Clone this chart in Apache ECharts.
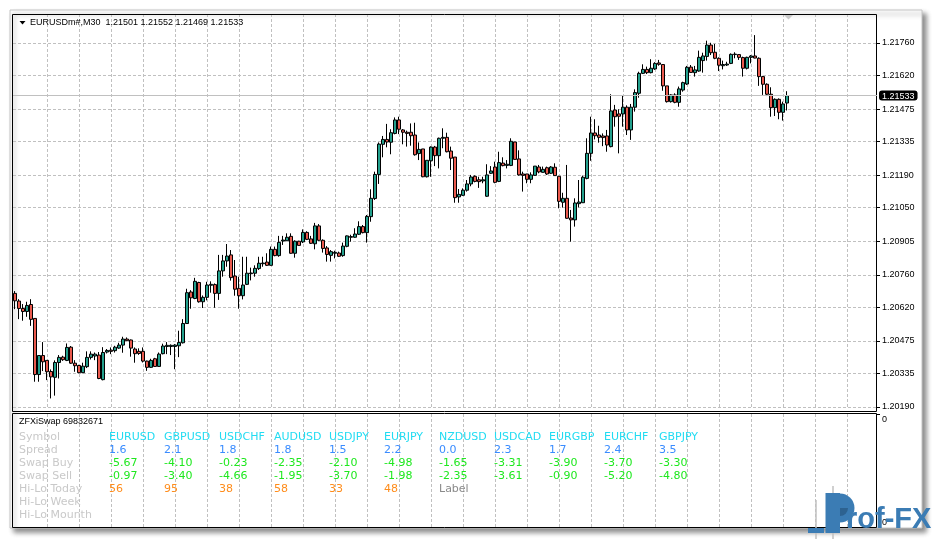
<!DOCTYPE html>
<html>
<head>
<meta charset="utf-8">
<script src="https://cdn.jsdelivr.net/npm/echarts@6/dist/echarts.min.js"></script>
<style>
html,body{margin:0;padding:0;background:#ffffff;}
#chart{width:935px;height:539px;}
</style>
</head>
<body>
<div id="chart"></div>
<script>
// ---------------- data ----------------
const symbolTitle = 'EURUSDm#,M30';
const openValues = [
1.20680,1.20647,1.20615,1.20602,1.20632,1.20572,1.20330,1.20412,1.20391,1.20343,
1.20318,1.20382,1.20405,1.20391,1.20448,1.20379,1.20369,1.20338,1.20364,1.20404,
1.20410,1.20414,1.20308,1.20427,1.20435,1.20433,1.20444,1.20457,1.20483,1.20479,
1.20440,1.20430,1.20430,1.20388,1.20361,1.20398,1.20365,1.20420,1.20451,1.20451,
1.20451,1.20454,1.20467,1.20550,1.20686,1.20658,1.20727,1.20644,1.20663,1.20715,
1.20718,1.20680,1.20777,1.20820,1.20846,1.20755,1.20702,1.20670,1.20719,1.20765,
1.20767,1.20787,1.20808,1.20815,1.20801,1.20870,1.20843,1.20906,1.20907,1.20926,
1.20853,1.20905,1.20902,1.20943,1.20915,1.20894,1.20971,1.20909,1.20876,1.20844,
1.20853,1.20854,1.20843,1.20883,1.20922,1.20922,1.20935,1.20968,1.20942,1.21011,
1.21089,1.21193,1.21323,1.21344,1.21332,1.21370,1.21428,1.21385,1.21375,1.21375,
1.21363,1.21283,1.21303,1.21183,1.21252,1.21311,1.21274,1.21349,1.21353,1.21294,
1.21268,1.21096,1.21103,1.21125,1.21152,1.21185,1.21170,1.21165,1.21099,1.21198,
1.21225,1.21163,1.21242,1.21232,1.21232,1.21333,1.21260,1.21195,1.21195,1.21172,
1.21189,1.21225,1.21202,1.21222,1.21198,1.21224,1.21185,1.21073,1.21090,1.21005,
1.20997,1.21067,1.21071,1.21176,1.21284,1.21372,1.21363,1.21359,1.21359,1.21313,
1.21471,1.21454,1.21454,1.21483,1.21385,1.21483,1.21543,1.21629,1.21646,1.21632,
1.21648,1.21674,1.21667,1.21575,1.21507,1.21536,1.21504,1.21557,1.21583,1.21656,
1.21632,1.21639,1.21684,1.21702,1.21751,1.21720,1.21694,1.21662,1.21665,1.21672,
1.21710,1.21710,1.21697,1.21651,1.21698,1.21704,1.21694,1.21615,1.21582,1.21539,
1.21481,1.21517,1.21461,1.21501
];
const closeValues = [
1.20648,1.20615,1.20602,1.20628,1.20568,1.20330,1.20412,1.20385,1.20342,1.20320,
1.20382,1.20404,1.20394,1.20447,1.20379,1.20368,1.20338,1.20366,1.20404,1.20418,
1.20418,1.20313,1.20425,1.20434,1.20430,1.20448,1.20457,1.20483,1.20476,1.20444,
1.20420,1.20421,1.20388,1.20361,1.20391,1.20365,1.20418,1.20453,1.20456,1.20456,
1.20457,1.20468,1.20550,1.20683,1.20661,1.20732,1.20644,1.20663,1.20716,1.20719,
1.20680,1.20777,1.20820,1.20841,1.20748,1.20698,1.20670,1.20716,1.20767,1.20768,
1.20788,1.20810,1.20811,1.20801,1.20870,1.20843,1.20900,1.20910,1.20922,1.20853,
1.20905,1.20887,1.20943,1.20913,1.20896,1.20971,1.20909,1.20874,1.20848,1.20860,
1.20857,1.20840,1.20884,1.20928,1.20925,1.20936,1.20968,1.20942,1.21012,1.21090,
1.21193,1.21324,1.21344,1.21333,1.21373,1.21428,1.21388,1.21375,1.21370,1.21360,
1.21278,1.21301,1.21183,1.21254,1.21311,1.21274,1.21349,1.21353,1.21291,1.21263,
1.21093,1.21107,1.21125,1.21152,1.21182,1.21163,1.21162,1.21170,1.21191,1.21208,
1.21159,1.21244,1.21231,1.21237,1.21336,1.21258,1.21191,1.21189,1.21172,1.21191,
1.21229,1.21204,1.21215,1.21195,1.21225,1.21188,1.21077,1.21090,1.21004,1.20997,
1.21070,1.21074,1.21181,1.21284,1.21372,1.21360,1.21353,1.21352,1.21320,1.21467,
1.21442,1.21444,1.21483,1.21385,1.21483,1.21546,1.21629,1.21646,1.21632,1.21651,
1.21672,1.21668,1.21575,1.21507,1.21536,1.21504,1.21562,1.21589,1.21655,1.21633,
1.21644,1.21698,1.21704,1.21751,1.21718,1.21694,1.21664,1.21667,1.21669,1.21711,
1.21712,1.21698,1.21651,1.21698,1.21704,1.21695,1.21615,1.21582,1.21539,1.21481,
1.21517,1.21461,1.21497,1.21533
];
const lowValues = [
1.20612,1.20569,1.20562,1.20579,1.20540,1.20299,1.20299,1.20345,1.20306,1.20227,
1.20239,1.20313,1.20389,1.20388,1.20376,1.20342,1.20336,1.20336,1.20358,1.20395,
1.20392,1.20310,1.20305,1.20421,1.20418,1.20425,1.20441,1.20424,1.20474,1.20407,
1.20381,1.20415,1.20382,1.20346,1.20359,1.20364,1.20364,1.20417,1.20418,1.20414,
1.20353,1.20405,1.20464,1.20548,1.20614,1.20655,1.20640,1.20617,1.20650,1.20683,
1.20618,1.20652,1.20752,1.20795,1.20735,1.20670,1.20614,1.20654,1.20716,1.20736,
1.20752,1.20781,1.20795,1.20798,1.20800,1.20840,1.20838,1.20889,1.20906,1.20851,
1.20834,1.20886,1.20897,1.20910,1.20893,1.20870,1.20906,1.20856,1.20817,1.20817,
1.20831,1.20837,1.20838,1.20879,1.20903,1.20920,1.20932,1.20939,1.20899,1.20989,
1.21083,1.21152,1.21267,1.21310,1.21280,1.21366,1.21367,1.21323,1.21313,1.21317,
1.21274,1.21255,1.21181,1.21180,1.21183,1.21229,1.21219,1.21306,1.21288,1.21212,
1.21071,1.21071,1.21100,1.21119,1.21142,1.21159,1.21135,1.21155,1.21096,1.21195,
1.21155,1.21160,1.21228,1.21219,1.21229,1.21257,1.21188,1.21119,1.21155,1.21155,
1.21188,1.21198,1.21201,1.21191,1.21195,1.21188,1.21047,1.21050,1.21002,1.20903,
1.20968,1.21051,1.21070,1.21172,1.21252,1.21344,1.21330,1.21315,1.21291,1.21310,
1.21399,1.21284,1.21399,1.21363,1.21342,1.21464,1.21524,1.21626,1.21626,1.21629,
1.21644,1.21662,1.21554,1.21503,1.21503,1.21500,1.21485,1.21550,1.21579,1.21632,
1.21615,1.21636,1.21632,1.21684,1.21708,1.21690,1.21639,1.21646,1.21661,1.21669,
1.21694,1.21687,1.21615,1.21646,1.21672,1.21694,1.21575,1.21536,1.21531,1.21442,
1.21445,1.21431,1.21425,1.21469
];
const highValues = [
1.20690,1.20655,1.20634,1.20644,1.20655,1.20572,1.20412,1.20470,1.20391,1.20352,
1.20391,1.20414,1.20411,1.20464,1.20453,1.20392,1.20372,1.20381,1.20430,1.20430,
1.20425,1.20427,1.20448,1.20440,1.20447,1.20454,1.20467,1.20493,1.20490,1.20481,
1.20447,1.20443,1.20447,1.20390,1.20398,1.20402,1.20425,1.20463,1.20470,1.20460,
1.20461,1.20519,1.20569,1.20700,1.20694,1.20747,1.20730,1.20671,1.20730,1.20732,
1.20723,1.20846,1.20846,1.20893,1.20867,1.20824,1.20752,1.20838,1.20838,1.20791,
1.20801,1.20838,1.20838,1.20853,1.20882,1.20882,1.20928,1.20928,1.20939,1.20939,
1.20909,1.20907,1.20956,1.20948,1.20928,1.20984,1.20979,1.20913,1.20884,1.20867,
1.20864,1.20860,1.20899,1.20930,1.20933,1.20961,1.20991,1.20975,1.21018,1.21129,
1.21205,1.21331,1.21359,1.21411,1.21388,1.21439,1.21442,1.21389,1.21382,1.21413,
1.21416,1.21331,1.21303,1.21254,1.21314,1.21316,1.21352,1.21392,1.21373,1.21313,
1.21268,1.21130,1.21133,1.21169,1.21191,1.21189,1.21183,1.21183,1.21237,1.21229,
1.21248,1.21291,1.21267,1.21255,1.21349,1.21333,1.21297,1.21205,1.21195,1.21202,
1.21229,1.21234,1.21227,1.21227,1.21229,1.21241,1.21185,1.21114,1.21234,1.21040,
1.21090,1.21169,1.21188,1.21349,1.21442,1.21431,1.21403,1.21370,1.21385,1.21539,
1.21493,1.21474,1.21534,1.21491,1.21497,1.21560,1.21636,1.21668,1.21658,1.21690,
1.21677,1.21687,1.21669,1.21575,1.21539,1.21543,1.21572,1.21593,1.21661,1.21665,
1.21661,1.21727,1.21718,1.21770,1.21761,1.21756,1.21698,1.21684,1.21679,1.21715,
1.21720,1.21712,1.21701,1.21701,1.21708,1.21794,1.21698,1.21618,1.21586,1.21569,
1.21521,1.21521,1.21507,1.21552
];
const priceTickLabels = [1.20190,1.20335,1.20475,1.20620,1.20760,1.20905,1.21050,1.21190,1.21335,1.21475,1.21620,1.21760];
const subAxisLabels = ['0', '0'];
const indicatorTitle = 'ZFXiSwap 69832671';
const rowLabels = ['Symbol','Spread','Swap Buy','Swap Sell','Hi-Lo Today','Hi-Lo Week','Hi-Lo Mounth'];
const tableSymbols = ['EURUSD','GBPUSD','USDCHF','AUDUSD','USDJPY','EURJPY','NZDUSD','USDCAD','EURGBP','EURCHF','GBPJPY'];
const spreads = ['1.6','2.1','1.8','1.8','1.5','2.2','0.0','2.3','1.7','2.4','3.5'];
const swapBuy = ['-5.67','-4.10','-0.23','-2.35','-2.10','-4.98','-1.65','-3.31','-3.90','-3.70','-3.30'];
const swapSell = ['-0.97','-3.40','-4.66','-1.95','-3.70','-1.98','-2.35','-3.61','-0.90','-5.20','-4.80'];
const hiLoToday = ['56','95','38','58','33','48'];
const placeholderLabel = 'Label';

// ---------------- build ----------------
const n = openValues.length;
const categories = openValues.map((_, i) => String(i));
const candleData = openValues.map((o, i) => [o, closeValues[i], lowValues[i], highValues[i]]);
const last = n - 1;
const lastPrice = closeValues[last];
const headerText = symbolTitle + '  ' + [openValues[last], highValues[last], lowValues[last], closeValues[last]].map(v => v.toFixed(5)).join(' ');

const FONT_SMALL_FAMILY = '"Liberation Sans", Arial, sans-serif';
const SMALL = '9px ' + FONT_SMALL_FAMILY;
const TABLE = '11px "DejaVu Sans", sans-serif';
const gridDash = { color: '#c0c0c0', type: [3, 2], width: 1 };
const vInterval = (i) => i > 0 && i % 8 === 0;

const graphics = [];
// window with drop shadow
graphics.push({ type: 'rect', z: -20, silent: true,
  shape: { x: 10, y: 10, width: 912, height: 518 },
  style: { fill: '#ffffff', stroke: '#c4c4c4', lineWidth: 1,
           shadowBlur: 5, shadowOffsetX: 4, shadowOffsetY: 4, shadowColor: 'rgba(0,0,0,0.45)' } });
// frames
graphics.push({ type: 'rect', z: 50, silent: true, shape: { x: 12.5, y: 14.5, width: 864, height: 397 },
  style: { fill: 'none', stroke: '#000', lineWidth: 1 } });
graphics.push({ type: 'rect', z: 50, silent: true, shape: { x: 12.5, y: 413.5, width: 864, height: 114 },
  style: { fill: 'none', stroke: '#000', lineWidth: 1 } });
// shift marker
graphics.push({ type: 'polygon', z: 51, silent: true, shape: { points: [[784, 15], [793, 15], [788.5, 19.5]] },
  style: { fill: '#c8c8c8' } });
// header
graphics.push({ type: 'polygon', z: 51, silent: true, shape: { points: [[19.5, 21], [25.5, 21], [22.5, 24.5]] },
  style: { fill: '#000' } });
graphics.push({ type: 'text', z: 51, silent: true,
  style: { text: headerText, x: 30, y: 23, font: SMALL, fill: '#000', textVerticalAlign: 'middle', verticalAlign: 'middle' } });
// indicator title
graphics.push({ type: 'text', z: 51, silent: true,
  style: { text: indicatorTitle, x: 19, y: 421.5, font: SMALL, fill: '#000', textVerticalAlign: 'middle', verticalAlign: 'middle' } });

// table
const rowY = (r) => 437.5 + 12.97 * r;
const colX = (c) => 109 + 55 * c;
function tableText(t, x, y, color) {
  graphics.push({ type: 'text', z: 40, silent: true,
    style: { text: t, x: x, y: y, font: TABLE, fill: color, textVerticalAlign: 'middle', verticalAlign: 'middle' } });
}
rowLabels.forEach((t, r) => tableText(t, 19, rowY(r), '#c9c9c9'));
tableSymbols.forEach((t, c) => tableText(t, colX(c), rowY(0), '#22dcf2'));
spreads.forEach((t, c) => tableText(t, colX(c), rowY(1), '#3a8cff'));
swapBuy.forEach((t, c) => tableText(t, colX(c), rowY(2), '#1ee81e'));
swapSell.forEach((t, c) => tableText(t, colX(c), rowY(3), '#1ee81e'));
hiLoToday.forEach((t, c) => tableText(t, colX(c), rowY(4), '#ff8c1a'));
tableText(placeholderLabel, colX(hiLoToday.length), rowY(4), '#8a8a8a');

// logo
const LOGO = '#3b7cb4';
graphics.push({ type: 'line', z: 60, silent: true, shape: { x1: 816, y1: 500, x2: 816, y2: 539 }, style: { stroke: '#c0c0c0', lineWidth: 1.5 } });
graphics.push({ type: 'line', z: 60, silent: true, shape: { x1: 833, y1: 486, x2: 833, y2: 539 }, style: { stroke: '#c0c0c0', lineWidth: 1.5 } });
graphics.push({ type: 'rect', z: 61, silent: true, shape: { x: 808, y: 528, width: 16, height: 5 }, style: { fill: LOGO } });
graphics.push({ type: 'rect', z: 61, silent: true, shape: { x: 825.5, y: 493, width: 14.5, height: 40 }, style: { fill: LOGO } });
graphics.push({ type: 'sector', z: 61, silent: true, shape: { cx: 840, cy: 508, r: 14.5, r0: 0, startAngle: -Math.PI / 2, endAngle: Math.PI / 2 }, style: { fill: LOGO } });
graphics.push({ type: 'sector', z: 62, silent: true, shape: { cx: 840, cy: 508, r: 8, r0: 0, startAngle: 0, endAngle: Math.PI / 2 }, style: { fill: '#2d6290' } });
graphics.push({ type: 'text', z: 62, silent: true,
  style: { text: 'rof-FX', x: 846, y: 534, font: 'bold 29px "Liberation Sans", Arial, sans-serif', fill: LOGO, textVerticalAlign: 'bottom', verticalAlign: 'bottom' } });

const option = {
  animation: false,
  backgroundColor: '#ffffff',
  axisPointer: { triggerOn: 'none' },
  grid: [
    { left: 13, top: 14, width: 864, bottom: 132 },
    { left: 13, top: 414, width: 864, height: 113 }
  ],
  xAxis: [
    { type: 'category', gridIndex: 0, data: categories, max: 215, boundaryGap: true,
      axisLine: { show: false }, axisTick: { show: false, alignWithLabel: true }, axisLabel: { show: false },
      splitLine: { show: true, interval: vInterval, alignWithLabel: true, lineStyle: gridDash } },
    { type: 'category', gridIndex: 1, data: categories, max: 215, boundaryGap: true,
      axisLine: { show: false }, axisTick: { show: false, alignWithLabel: true }, axisLabel: { show: false },
      splitLine: { show: true, interval: vInterval, alignWithLabel: true, lineStyle: gridDash } }
  ],
  yAxis: [
    { type: 'value', gridIndex: 0, position: 'right', min: 1.20190, max: 1.21885,
      interval: (1.21760 - 1.20190) / 11,
      axisLine: { show: false },
      axisTick: { show: true, length: 3, lineStyle: { color: '#000' }, customValues: priceTickLabels },
      axisLabel: { show: true, customValues: priceTickLabels, formatter: (v) => v.toFixed(5),
                   color: '#000', fontSize: 9, fontFamily: FONT_SMALL_FAMILY, margin: 5 },
      splitLine: { show: true, lineStyle: gridDash },
      axisPointer: { show: true, type: 'line', value: lastPrice, status: 'show', snap: false, triggerTooltip: false,
        lineStyle: { color: '#c0c0c0', width: 1, type: 'solid' },
        label: { show: true, formatter: (p) => Number(p.value).toFixed(5), backgroundColor: '#000', color: '#fff',
                 padding: [1, 3, 0, 3], fontSize: 9, fontFamily: FONT_SMALL_FAMILY, margin: 2 },
        handle: { show: false } } },
    { type: 'value', gridIndex: 1, position: 'right', min: 0, max: 1,
      axisLine: { show: false },
      axisTick: { show: true, length: 3, lineStyle: { color: '#000' }, customValues: [1] },
      axisLabel: { show: true, customValues: [0.04, 0.95], formatter: (v) => (v > 0.5 ? subAxisLabels[0] : subAxisLabels[1]),
                   color: '#000', fontSize: 9, fontFamily: FONT_SMALL_FAMILY, margin: 5 },
      splitLine: { show: false } }
  ],
  series: [
    { type: 'candlestick', xAxisIndex: 0, yAxisIndex: 0, data: candleData,
      barWidth: 2.6, clip: false,
      itemStyle: { color: '#23a08d', color0: '#ea5a4e', borderColor: '#000', borderColor0: '#000', borderWidth: 1 } },
    { type: 'line', xAxisIndex: 1, yAxisIndex: 1, data: [], silent: true }
  ],
  graphic: { elements: graphics }
};

const chart = echarts.init(document.getElementById('chart'), null, { renderer: 'canvas' });
chart.setOption(option);
</script>
</body>
</html>
